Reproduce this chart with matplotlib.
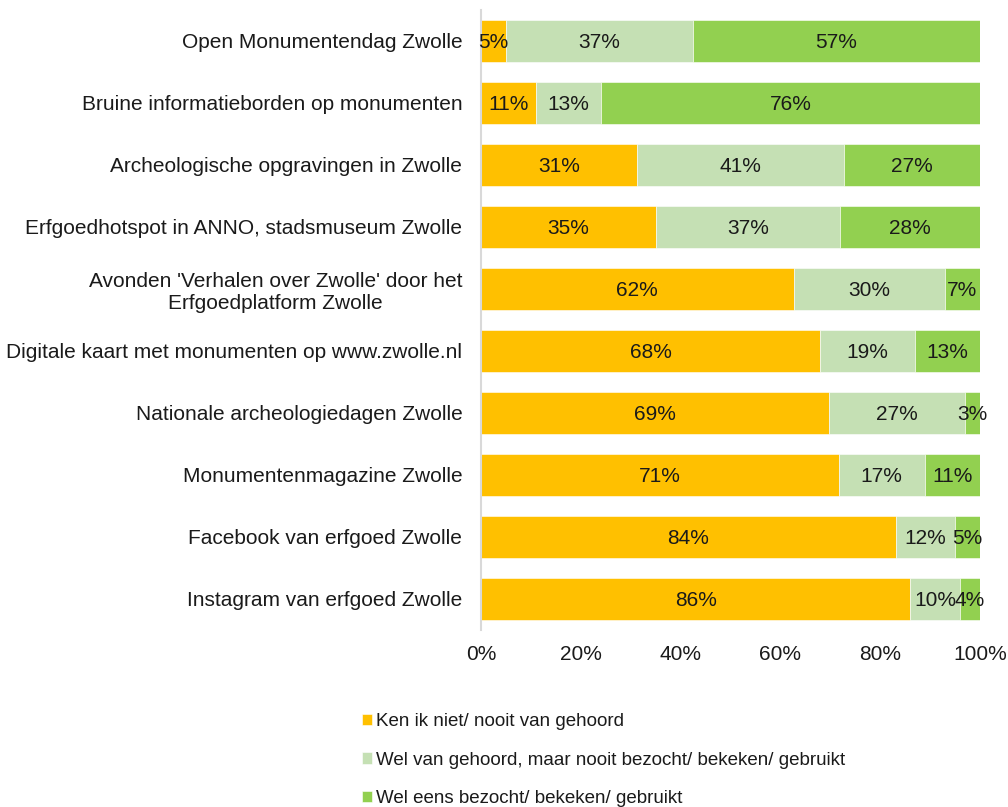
import matplotlib
matplotlib.use("Agg")
import matplotlib.pyplot as plt
import numpy as np

plt.rcParams['font.family'] = ['Liberation Sans', 'DejaVu Sans']

categories = [
    "Open Monumentendag Zwolle",
    "Bruine informatieborden op monumenten",
    "Archeologische opgravingen in Zwolle",
    "Erfgoedhotspot in ANNO, stadsmuseum Zwolle",
    "Avonden 'Verhalen over Zwolle' door het\nErfgoedplatform Zwolle",
    "Digitale kaart met monumenten op www.zwolle.nl",
    "Nationale archeologiedagen Zwolle",
    "Monumentenmagazine Zwolle",
    "Facebook van erfgoed Zwolle",
    "Instagram van erfgoed Zwolle",
]
ken_niet = [5, 11, 31, 35, 62, 68, 69, 71, 84, 86]
gehoord = [37, 13, 41, 37, 30, 19, 27, 17, 12, 10]
bezocht = [57, 76, 27, 28, 7, 13, 3, 11, 5, 4]
series_names = [
    "Ken ik niet/ nooit van gehoord",
    "Wel van gehoord, maar nooit bezocht/ bekeken/ gebruikt",
    "Wel eens bezocht/ bekeken/ gebruikt",
]
colors = ["#FFC000", "#C5E0B4", "#92D050"]
xticks = [0, 20, 40, 60, 80, 100]
xtick_labels = ["0%", "20%", "40%", "60%", "80%", "100%"]

W, H = 1008, 807
fig = plt.figure(figsize=(W / 100, H / 100), dpi=100)
ax = fig.add_axes([481 / W, 1 - 630 / H, 499 / W, 620 / H])

data = np.array([ken_niet, gehoord, bezocht], dtype=float)
totals = data.sum(axis=0)
shares = data / totals * 100  # 100% stacked, as in the original chart

y = np.arange(len(categories))
left = np.zeros(len(categories))
for vals, pct, name, col in zip(data, shares, series_names, colors):
    ax.barh(y, pct, left=left, height=0.68, color=col, label=name,
            edgecolor='white', linewidth=0.4)
    for yi, l, p, v in zip(y, left, pct, vals):
        ax.text(l + p / 2, yi, f"{int(v)}%", ha='center', va='center_baseline',
                fontsize=15, color='#1a1a1a')
    left = left + pct

ax.set_ylim(len(categories) - 0.5, -0.5)
ax.set_xlim(0, 100)
ax.set_yticks(y)
ax.set_yticklabels(categories, fontsize=15, color='#1a1a1a', multialignment='center')
ax.set_xticks(xticks)
ax.set_xticklabels(xtick_labels, fontsize=15, color='#1a1a1a')
ax.tick_params(axis='both', length=0)
ax.tick_params(axis='y', pad=13.5)
ax.tick_params(axis='x', pad=11)
for s in ['top', 'right', 'bottom']:
    ax.spines[s].set_visible(False)
ax.spines['left'].set_color('#D9D9D9')
ax.spines['left'].set_linewidth(1.5)

handles, labels = ax.get_legend_handles_labels()
leg = fig.legend(handles, labels, loc='upper left', bbox_to_anchor=(362 / W, 1 - 713 / H),
                 frameon=False, fontsize=13.5, handlelength=0.55, handleheight=0.55,
                 handletextpad=0.2, labelspacing=1.15, borderaxespad=0, borderpad=0)
for t in leg.get_texts():
    t.set_color('#1a1a1a')

fig.savefig("out.png", dpi=100)
